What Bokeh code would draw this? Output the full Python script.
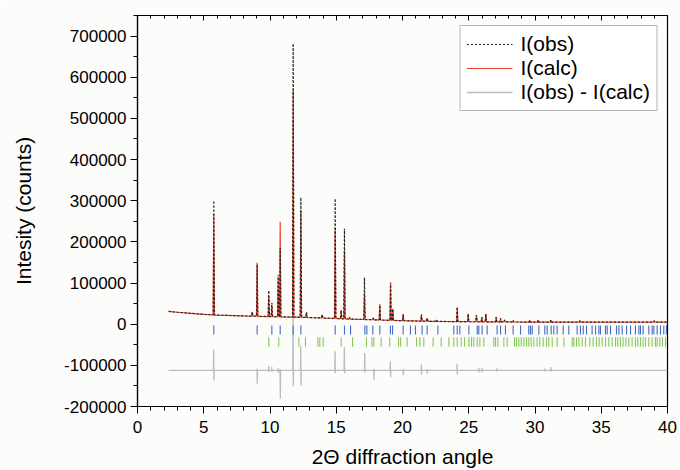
import numpy as np
from bokeh.plotting import figure
from bokeh.models import (Range1d, LinearAxis, SingleIntervalTicker, NumeralTickFormatter,
                          Legend, LegendItem, CustomJSTickFormatter)
from bokeh.embed import file_html
from bokeh.resources import INLINE

# ---------------- data ----------------
# background (2theta, intensity)
bg_x = [2.35, 3.0, 4.0, 5.0, 6.0, 8.0, 10.0, 12.0, 14.0, 16.0, 18.0, 20.0, 22.0, 25.0, 30.0, 35.0, 40.0]
bg_y = [31000, 29000, 26500, 24000, 22000, 20000, 18500, 17000, 15000, 12500, 10500, 8500, 7000, 6000, 5000, 5000, 5000]

# peaks: position, observed top, calculated top
peak_pos = [5.76, 8.66, 9.03, 9.91, 10.14, 10.62, 10.77, 11.75, 12.33, 12.75, 13.94, 14.92, 15.37,
            15.62, 16.00, 17.13, 17.80, 18.29, 19.10, 19.27, 20.05, 21.43, 21.86, 22.57, 24.13,
            24.96, 25.58, 25.99, 26.29, 27.07, 27.40, 27.70, 28.35, 29.60, 30.24, 31.20, 33.40, 39.00]
obs_top = [300000, 30000, 145000, 82000, 52000, 120000, 185000, 682000, 308000, 29000, 24000, 305000, 34000,
           232000, 17000, 113000, 15000, 46000, 101000, 37000, 24000, 24000, 15000, 10000, 42000,
           25000, 22000, 17000, 25000, 17000, 14000, 10000, 9000, 10000, 10000, 10000, 8000, 8000]
calc_top = [268000, 30000, 150000, 68000, 45000, 115000, 249000, 568000, 275000, 29000, 22000, 232000, 34000,
            178000, 17000, 73000, 15000, 49000, 98000, 37000, 24000, 22000, 15000, 10000, 40000,
            25000, 22000, 17000, 25000, 17000, 14000, 10000, 9000, 10000, 10000, 10000, 8000, 8000]

# difference curve spikes: position, excursion up, excursion down
diff_offset = -112000
diff_pos = [5.76, 9.03, 9.91, 10.14, 10.62, 10.77, 11.75, 12.33, 14.92, 15.62, 17.16, 17.84, 19.09,
            20.05, 21.43, 21.86, 24.13, 25.76, 26.01, 27.14, 30.74, 31.22]
diff_up = [50000, 4000, 10000, 8000, 5000, 3000, 175000, 59000, 46000, 56000, 42000, 3000, 22000,
           3000, 14000, 3000, 16000, 6000, 6000, 5000, 4000, 8000]
diff_down = [25000, 33000, 4000, 3000, 6000, 69000, 39000, 37000, 7000, 7000, 5000, 23000, 17000,
             12000, 10000, 8000, 10000, 5000, 5000, 3000, 3000, 3000]

# reflection markers of the two phases
blue_pos = [5.76, 9.03, 10.14, 10.77, 11.75, 12.33, 14.92, 15.62, 16.08, 17.16, 17.31, 17.76, 18.29,
            19.09, 19.25, 20.05, 20.60, 20.98, 21.48, 21.86, 22.67, 23.87, 24.13, 24.33, 25.01, 25.64,
            25.76, 26.01, 26.39, 27.14, 27.40, 27.77, 28.35, 28.91, 29.53, 29.66, 29.79, 30.29, 30.74,
            30.92, 31.22, 31.42, 31.67, 32.13, 32.55, 33.18, 33.43, 33.64, 33.89, 34.31, 34.57, 34.82,
            34.94, 35.32, 35.45, 35.70, 36.15, 36.33, 36.58, 36.91, 37.21, 37.58, 37.84, 37.96, 38.16,
            38.59, 38.84, 38.97, 39.22, 39.47, 39.72, 39.92]
green_pos = [9.91, 10.66, 12.18, 12.68, 13.61, 13.76, 14.01, 15.37, 16.23, 17.28, 17.69, 17.84, 18.39,
             19.04, 19.70, 19.85, 20.35, 21.06, 21.31, 21.61, 22.31, 22.92, 23.50, 23.87, 24.13, 24.43,
             24.68, 25.01, 25.21, 25.38, 25.64, 25.84, 26.14, 26.89, 27.02, 27.20, 27.65, 27.90, 28.45,
             28.60, 28.78, 28.96, 29.16, 29.36, 29.53, 29.71, 29.91, 30.16, 30.36, 30.62, 30.87, 31.04,
             31.30, 31.67, 32.18, 32.81, 32.93, 33.13, 33.31, 33.56, 33.81, 34.14, 34.39, 34.64, 34.84,
             35.07, 35.32, 35.57, 35.82, 36.08, 36.25, 36.45, 36.65, 36.86, 37.08, 37.33, 37.58, 37.76,
             37.96, 38.16, 38.34, 38.59, 38.84, 39.09, 39.22, 39.42, 39.62, 39.85]
blue_span = (-3000, -25000)
green_span = (-32000, -55000)

x_ticks_major = 5
y_ticks_major = 100000

# ---------------- build profiles from the lists ----------------
HALF = 0.05


def profile(tops):
    xs = list(bg_x)
    ys = list(bg_y)
    for pos, top in zip(peak_pos, tops):
        b0 = float(np.interp(pos - HALF, bg_x, bg_y))
        b1 = float(np.interp(pos + HALF, bg_x, bg_y))
        xs += [pos - HALF, pos, pos + HALF]
        ys += [b0, top, b1]
    order = np.argsort(xs, kind="stable")
    return [xs[i] for i in order], [ys[i] for i in order]


obs_x, obs_y = profile(obs_top)
calc_x, calc_y = profile(calc_top)

dx = [bg_x[0], bg_x[-1]]
dy = [diff_offset, diff_offset]
for pos, up, dn in zip(diff_pos, diff_up, diff_down):
    dx += [pos - 0.03, pos - 0.008, pos + 0.008, pos + 0.03]
    dy += [diff_offset, diff_offset + up, diff_offset - dn, diff_offset]
o = np.argsort(dx, kind="stable")
diff_x = [dx[i] for i in o]
diff_y = [dy[i] for i in o]

FONT = "Liberation Sans"

p = figure(width=680, height=470, x_range=Range1d(0, 40), y_range=Range1d(-200000, 750000),
           output_backend="svg", toolbar_location=None,
           min_border_left=137, min_border_right=13, min_border_top=15, min_border_bottom=63)
p.background_fill_color = "#fcfcfa"
p.border_fill_color = "#fcfcfa"
p.grid.visible = False
p.outline_line_color = "black"
p.outline_line_width = 1.2

xa = p.xaxis[0]
xa.ticker = SingleIntervalTicker(interval=x_ticks_major, num_minor_ticks=5)
ya = p.yaxis[0]
ya.ticker = SingleIntervalTicker(interval=y_ticks_major, num_minor_ticks=2)
ya.formatter = NumeralTickFormatter(format="0")
for ax in (xa, ya):
    ax.axis_line_color = "black"
    ax.axis_line_width = 1.2
    ax.major_tick_line_color = "black"
    ax.minor_tick_line_color = "black"
    ax.major_tick_in = 0
    ax.major_tick_out = 7
    ax.minor_tick_in = 0
    ax.minor_tick_out = 4
    ax.major_label_text_font = FONT
    ax.major_label_text_font_size = "17px"
    ax.major_label_text_color = "black"
    ax.axis_label_text_font = FONT
    ax.axis_label_text_font_size = "21px"
    ax.axis_label_text_font_style = "normal"
    ax.axis_label_text_color = "black"
xa.axis_label = "2Θ diffraction angle"
ya.axis_label = "Intesity (counts)"
xa.major_label_standoff = 7
xa.axis_label_standoff = 9
ya.major_label_standoff = 4
ya.axis_label_standoff = 26

top = LinearAxis(ticker=SingleIntervalTicker(interval=x_ticks_major, num_minor_ticks=5),
                 formatter=CustomJSTickFormatter(code="return ''"),
                 major_label_text_font_size="10px", major_label_standoff=0,
                 major_tick_in=5, major_tick_out=0, minor_tick_in=3, minor_tick_out=0,
                 axis_line_color="black", axis_line_width=1.2)
p.add_layout(top, "above")

# difference curve
r_diff = p.line(diff_x, diff_y, line_color="#b9bcc4", line_width=1.3)

# reflection markers
p.segment(x0=blue_pos, x1=blue_pos, y0=[blue_span[0]] * len(blue_pos), y1=[blue_span[1]] * len(blue_pos),
          line_color="#3f6cc4", line_width=1.1)
p.segment(x0=green_pos, x1=green_pos, y0=[green_span[0]] * len(green_pos), y1=[green_span[1]] * len(green_pos),
          line_color="#86c85a", line_width=1.1)

r_calc = p.line(calc_x, calc_y, line_color="#e8462a", line_width=1.2)
r_obs = p.line(obs_x, obs_y, line_color="#222222", line_width=1.2, line_dash="2 2")

legend = Legend(items=[LegendItem(label="I(obs)", renderers=[r_obs]),
                       LegendItem(label="I(calc)", renderers=[r_calc]),
                       LegendItem(label="I(obs) - I(calc)", renderers=[r_diff])],
                location="top_right", margin=10, padding=6, spacing=0,
                glyph_width=46, glyph_height=24, label_standoff=8,
                label_text_font=FONT, label_text_font_size="21px", label_text_color="black",
                border_line_color="#707070", border_line_width=1.2,
                background_fill_color="white", background_fill_alpha=1.0)
p.add_layout(legend)

open("out.html", "w").write(file_html(p, INLINE))
